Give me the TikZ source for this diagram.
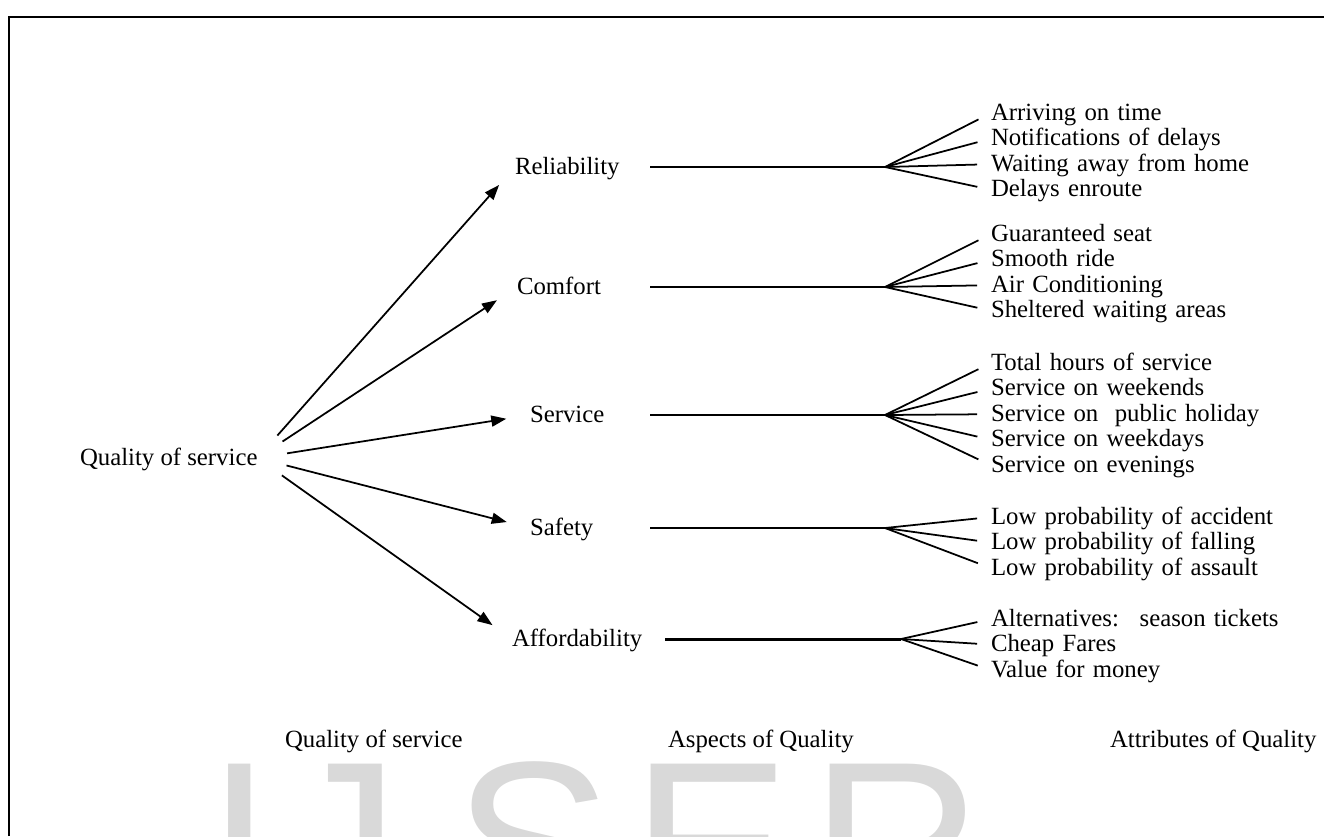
\documentclass[tikz,border=0pt]{standalone}
\usepackage{fontspec}
\setmainfont{Liberation Serif}
\newfontfamily\wmfont{Liberation Sans}
\usetikzlibrary{arrows.meta,positioning}

\begin{document}
\begin{tikzpicture}[
    x = 0.02cm, y = -0.02cm, % one unit is one pixel of the page, y runs down
    > = {Triangle[length=0.3cm,width=0.22cm]}, % arrow head style
    node distance = 0pt, % attributes sit right under each other
    font = \fontsize{14.1}{16}\selectfont,
    line width = 1pt % line style
    ]

    \tikzset{
    txt/.style = {inner sep = 0pt, outer sep = 0pt, text height = 0.4cm, text depth = 0.112cm},
    aspect/.style = {txt, anchor = west},
    attr/.style = {txt, text width = 7cm, align = left},
    feed/.style = {->, shorten < = 0.6cm, shorten > = 0.48cm},
    twig/.style = {shorten > = 0.28cm},
    watermark/.style = {anchor = base, inner sep = 0pt, text height = 3.4cm, text = black!15,
      font = \wmfont\fontsize{136}{140}\selectfont}
    }

    \useasboundingbox (0,0) rectangle (1324,836);

    % watermark
    \foreach \l/\x in {I/240, J/340, S/533, E/711, R/897}
    \node[watermark] (wm\l) at (\x,928) {\l};

    % frame
    \draw[line width = 1.6pt] (9,836) -- (9,17) -- (1324,17);

    \node[txt, anchor = west] (root) at (80,458) {Quality of service};

    \node[aspect] (rel) at (515,167) {Reliability};
    \node[aspect] (com) at (517,287) {Comfort};
    \node[aspect] (ser) at (530,415) {Service};
    \node[aspect] (saf) at (530,528) {Safety};
    \node[aspect] (aff) at (512,639) {Affordability};

    \coordinate (stem) at (650,0);
    \coordinate (stem2) at (665,0);
    \coordinate (rf) at (885,167);
    \coordinate (cf) at (885,287);
    \coordinate (sf) at (885,415);
    \coordinate (yf) at (885,528);
    \coordinate (af) at (901,639);

    \node[attr, anchor = west] (r1) at (991,113) {Arriving on time};
    \node[attr] (r2) [below=of r1] {Notifications of delays};
    \node[attr] (r3) [below=of r2] {Waiting away from home};
    \node[attr] (r4) [below=of r3] {Delays enroute};

    \node[attr, anchor = west] (c1) at (991,234) {Guaranteed seat};
    \node[attr] (c2) [below=of c1] {Smooth ride};
    \node[attr] (c3) [below=of c2] {Air Conditioning};
    \node[attr] (c4) [below=of c3] {Sheltered waiting areas};

    \node[attr, anchor = west] (s1) at (991,363) {Total hours of service};
    \node[attr] (s2) [below=of s1] {Service on weekends};
    \node[attr] (s3) [below=of s2] {Service on \ public holiday};
    \node[attr] (s4) [below=of s3] {Service on weekdays};
    \node[attr] (s5) [below=of s4] {Service on evenings};

    \node[attr, anchor = west] (y1) at (991,517) {Low probability of accident};
    \node[attr] (y2) [below=of y1] {Low probability of falling};
    \node[attr] (y3) [below=of y2] {Low probability of assault};

    \node[attr, anchor = west] (f1) at (991,619) {Alternatives: \ season tickets};
    \node[attr] (f2) [below=of f1] {Cheap Fares};
    \node[attr] (f3) [below=of f2] {Value for money};

    \node[txt, anchor = west] (capq) at (285,740) {Quality of service};
    \node[txt, anchor = west] (capa) at (668,740) {Aspects of Quality};
    \node[txt, anchor = west] (capt) at (1110,740) {Attributes of Quality};

    \path (root.east) edge[feed] (rel.west);
    \path (root.east) edge[feed] (com.west);
    \path (root.east) edge[feed] (ser.west);
    \path (root.east) edge[feed] (saf.west);
    \path (root.east) edge[feed] (aff.west);

    \draw (rel -| stem) -- (rf);
    \draw (com -| stem) -- (cf);
    \draw (ser -| stem) -- (sf);
    \draw (saf -| stem) -- (yf);
    \draw[line width = 1.7pt] (aff -| stem2) -- (af);

    \path (rf) edge[twig] (r1.west) edge[twig] (r2.west) edge[twig] (r3.west) edge[twig] (r4.west);
    \path (cf) edge[twig] (c1.west) edge[twig] (c2.west) edge[twig] (c3.west) edge[twig] (c4.west);
    \path (sf) edge[twig] (s1.west) edge[twig] (s2.west) edge[twig] (s3.west) edge[twig] (s4.west) edge[twig] (s5.west);
    \path (yf) edge[twig] (y1.west) edge[twig] (y2.west) edge[twig] (y3.west);
    \path (af) edge[twig] (f1.west) edge[twig] (f2.west) edge[twig] (f3.west);
\end{tikzpicture}
\end{document}
